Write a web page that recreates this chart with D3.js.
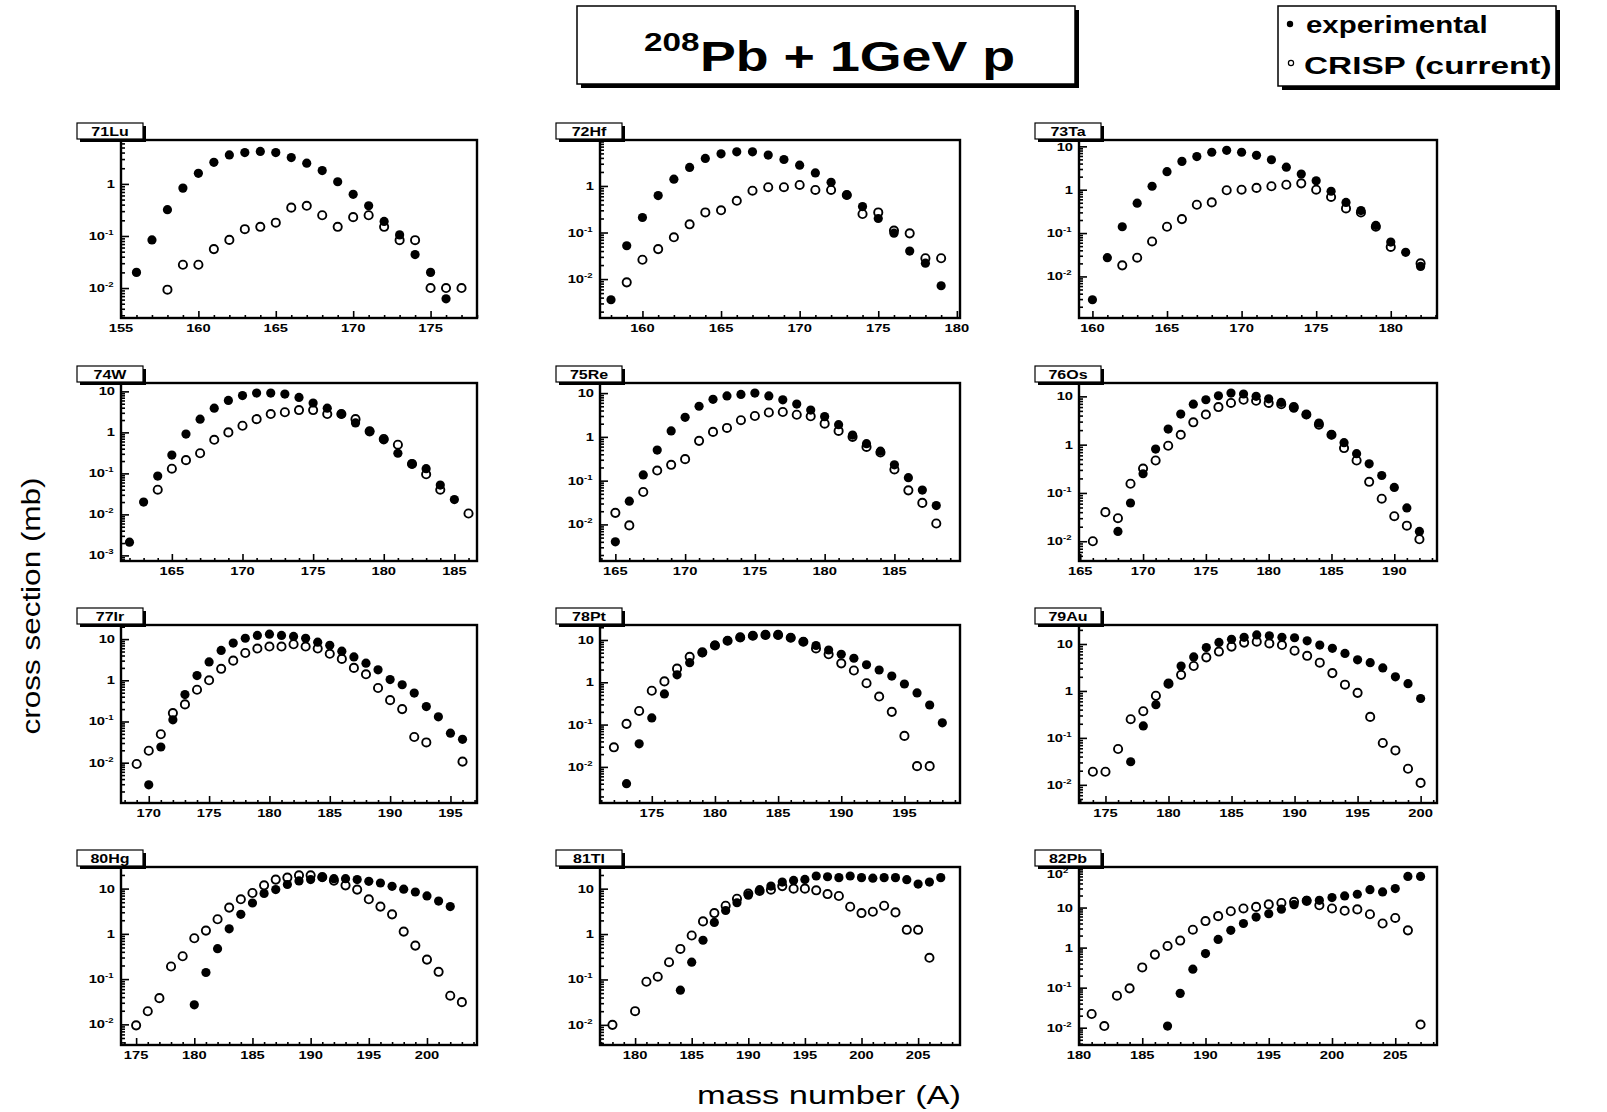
<!DOCTYPE html>
<html><head><meta charset="utf-8">
<script src="https://cdnjs.cloudflare.com/ajax/libs/d3/7.8.5/d3.min.js"></script>
<style>body{margin:0;background:#fff}svg{display:block}text{font-family:"Liberation Sans",Arial,sans-serif;fill:#000}</style>
</head><body><svg id="c" width="1607" height="1112"></svg>
<script>
// ---------------- data ----------------
const nuclei = ["71Lu","72Hf","73Ta","74W","75Re","76Os","77Ir","78Pt","79Au","80Hg","81Tl","82Pb"];
const titleSup = "208";
const titleMain = "Pb + 1GeV p";
const legendLabels = ["experimental", "CRISP (current)"];
const xAxisTitle = "mass number (A)";
const yAxisTitle = "cross section (mb)";

const massLu  = [156,157,158,159,160,161,162,163,164,165,166,167,168,169,170,171,172,173,174,175,176,177];
const expLu   = [0.02,0.084,0.32,0.83,1.6,2.6,3.6,4.0,4.2,4.0,3.2,2.5,1.8,1.1,0.63,0.38,0.19,0.105,0.044,0.02,0.0062,null];
const crispLu = [null,null,0.0093,0.028,0.028,0.056,0.084,0.135,0.15,0.18,0.35,0.38,0.25,0.15,0.23,0.25,0.15,0.083,0.083,0.01,0.01,0.01];

const massHf  = [158,159,160,161,162,163,164,165,166,167,168,169,170,171,172,173,174,175,176,177,178,179];
const expHf   = [0.0036,0.052,0.21,0.62,1.4,2.5,3.9,4.9,5.4,5.4,4.6,3.7,2.8,1.9,1.2,0.64,0.36,0.2,0.097,0.04,0.022,0.0072];
const crispHf = [null,0.0085,0.026,0.044,0.079,0.15,0.27,0.3,0.48,0.79,0.94,0.94,1.05,0.82,0.82,0.64,0.25,0.27,0.11,0.096,0.028,0.028];

const massTa  = [160,161,162,163,164,165,166,167,168,169,170,171,172,173,174,175,176,177,178,179,180,181,182];
const expTa   = [0.0029,0.027,0.14,0.49,1.2,2.6,4.5,5.8,7.3,8.1,7.3,6.2,4.9,3.3,2.3,1.6,0.92,0.51,0.33,0.15,0.062,0.036,0.017];
const crispTa = [null,null,0.018,0.027,0.064,0.14,0.21,0.45,0.51,0.97,1.0,1.1,1.2,1.3,1.4,1.0,0.68,0.37,0.3,0.14,0.048,null,0.02];

const massW   = [162,163,164,165,166,167,168,169,170,171,172,173,174,175,176,177,178,179,180,181,182,183,184,185,186];
const expW    = [0.0021,0.02,0.086,0.28,0.91,2.1,3.9,6.0,7.9,9.1,9.1,8.6,7.1,5.2,3.9,2.8,1.7,1.06,0.66,0.31,0.17,0.13,0.052,0.023,null];
const crispW  = [null,null,0.04,0.13,0.21,0.31,0.66,1.0,1.45,2.1,2.8,3.1,3.5,3.5,2.8,2.8,2.1,1.06,0.69,0.5,0.17,0.095,0.04,null,0.0105];

const massRe  = [165,166,167,168,169,170,171,172,173,174,175,176,177,178,179,180,181,182,183,184,185,186,187,188];
const expRe   = [0.004,0.034,0.135,0.5,1.37,2.8,5.0,7.2,8.6,9.3,10,8.6,7.0,5.6,4.1,2.9,1.9,1.1,0.7,0.47,0.23,0.117,0.061,0.027];
const crispRe = [0.0184,0.0095,0.055,0.17,0.23,0.31,0.81,1.3,1.6,2.4,3.0,3.6,3.7,3.2,2.95,2.0,1.37,1.0,0.59,0.44,0.18,0.06,0.031,0.0105];

const massOs  = [166,167,168,169,170,171,172,173,174,175,176,177,178,179,180,181,182,183,184,185,186,187,188,189,190,191,192];
const expOs   = [null,null,0.016,0.062,0.25,0.81,2.1,4.3,6.9,8.5,10.3,11.7,11.2,10,8.9,7.5,5.7,4.2,2.8,1.6,1.1,0.65,0.4,0.23,0.13,0.049,0.016];
const crispOs = [0.01,0.04,0.03,0.155,0.32,0.47,0.95,1.6,2.9,4.2,6.0,7.3,8.5,8.1,7.3,6.9,6.0,4.2,2.6,1.6,0.85,0.47,0.17,0.076,0.033,0.021,0.011];

const massIr  = [169,170,171,172,173,174,175,176,177,178,179,180,181,182,183,184,185,186,187,188,189,190,191,192,193,194,195,196];
const expIr   = [null,0.0029,0.024,0.11,0.45,1.3,2.8,5.3,8.0,10.5,12.3,13.2,12.3,11.6,10.5,8.4,7.1,5.1,3.7,2.6,1.8,1.04,0.78,0.49,0.23,0.13,0.052,0.037];
const crispIr = [0.0093,0.0195,0.049,0.16,0.26,0.59,1.0,1.9,3.0,4.6,5.9,6.6,6.6,7.5,6.6,5.9,4.4,3.3,2.0,1.4,0.65,0.33,0.2,0.042,0.031,null,null,0.0106];

const massPt  = [172,173,174,175,176,177,178,179,180,181,182,183,184,185,186,187,188,189,190,191,192,193,194,195,196,197,198];
const expPt   = [null,0.004,0.035,0.144,0.53,1.5,2.9,5.0,7.6,9.6,11.5,12.6,13.2,13.2,11.3,9.1,7.4,5.8,4.6,3.7,2.6,1.95,1.4,0.91,0.56,0.29,0.11];
const crispPt = [0.029,0.104,0.21,0.63,1.05,2.1,4.0,5.1,7.4,9.6,11.5,12.6,13.2,13.2,11.3,9.1,6.3,4.6,2.8,1.9,0.95,0.46,0.2,0.054,0.0104,0.0104,null];

const massAu  = [174,175,176,177,178,179,180,181,182,183,184,185,186,187,188,189,190,191,192,193,194,195,196,197,198,199,200];
const expAu   = [null,null,null,0.031,0.18,0.51,1.43,3.4,5.3,8.4,10.8,12.6,13.9,15.6,15,13.9,13.6,11.7,9.5,8.1,6.3,4.6,4.0,3.1,2.0,1.43,0.69];
const crispAu = [0.019,0.019,0.058,0.25,0.37,0.79,1.43,2.2,3.4,5.2,6.9,8.8,10.7,11.2,10.3,9.5,7.2,5.6,4.0,2.4,1.36,0.91,0.28,0.078,0.054,0.022,0.011];

const massHg  = [175,176,177,178,179,180,181,182,183,184,185,186,187,188,189,190,191,192,193,194,195,196,197,198,199,200,201,202,203];
const expHg   = [null,null,null,null,null,0.027,0.14,0.47,1.29,2.7,4.8,7.8,9.5,12.3,14.8,15.8,17.5,16.6,16.6,15.8,14.5,13.3,11.2,9.7,8.4,6.9,5.3,4.0,null];
const crispHg = [0.0095,0.0195,0.038,0.19,0.32,0.8,1.18,2.1,3.8,5.8,8.0,11.8,15.8,17.5,19.6,19.6,18,15,11.8,9.5,5.8,4.0,2.7,1.12,0.55,0.27,0.145,0.043,0.031];

const massTl  = [178,179,180,181,182,183,184,185,186,187,188,189,190,191,192,193,194,195,196,197,198,199,200,201,202,203,204,205,206,207];
const expTl   = [null,null,null,null,null,null,0.058,0.24,0.73,1.8,3.3,4.9,7.2,9.5,11.4,14,15.2,16,19,18.3,17.5,19,17.5,17,17.5,17.5,15.8,12.6,14,17.5];
const crispTl = [0.01,null,0.02,0.089,0.115,0.24,0.47,0.93,1.9,2.9,4.2,6.0,7.8,8.9,9.5,11.4,10,10,9.2,7.6,6.9,4.0,2.9,3.1,4.2,3.0,1.24,1.24,0.3,null];

const massPb  = [181,182,183,184,185,186,187,188,189,190,191,192,193,194,195,196,197,198,199,200,201,202,203,204,205,206,207];
const expPb   = [null,null,null,null,null,null,0.011,0.072,0.29,0.71,1.6,2.7,4.0,5.8,7.0,9.1,11.8,15.2,15.2,17.8,19.5,21.5,28,24.6,29.8,60,60];
const crispPb = [0.022,0.011,0.063,0.096,0.32,0.67,1.1,1.5,2.8,4.6,6.1,8.1,9.5,10.4,12,13,13.9,14.7,11.4,9.5,8.3,9.0,6.8,4.0,5.5,2.7,0.012];

// axis ranges of each pad
const xDomains = [[155,178],[157.3,180.2],[159.1,183.1],[161.4,186.6],[163.9,189.7],[164.9,193.4],
                  [167.7,197.2],[170.9,199.4],[172.9,201.3],[173.7,204.3],[176.9,208.7],[180,208.3]];
const yDomains = [[0.00266,6.97],[0.00146,9.7],[0.0011,14],[0.00073,16],[0.00146,17],[0.0039,18.9],
                  [0.00105,22],[0.0014,22.6],[0.0041,25.4],[0.0035,30],[0.0036,30],[0.0037,103]];

const masses = [massLu,massHf,massTa,massW,massRe,massOs,massIr,massPt,massAu,massHg,massTl,massPb];
const exps   = [expLu,expHf,expTa,expW,expRe,expOs,expIr,expPt,expAu,expHg,expTl,expPb];
const crisps = [crispLu,crispHf,crispTa,crispW,crispRe,crispOs,crispIr,crispPt,crispAu,crispHg,crispTl,crispPb];

// ---------------- drawing ----------------
const SX = 1.28; // horizontal stretch of the original canvas text
const svg = d3.select("#c");
svg.append("rect").attr("width",1607).attr("height",1112).attr("fill","#fff");

function sText(parent, x, y, str, size, anchor, weight, sx, rot) {
  const g = parent.append("g").attr("transform", `translate(${x},${y})` + (rot?` rotate(${rot})`:"") + ` scale(${sx||SX},1)`);
  return g.append("text").attr("text-anchor", anchor||"start").attr("font-size", size)
    .attr("font-weight", weight||"normal").text(str);
}
function shadowBox(parent, x, y, w, h, sh, lw) {
  parent.append("rect").attr("x", x+sh).attr("y", y+sh).attr("width", w).attr("height", h).attr("fill","#000");
  parent.append("rect").attr("x", x).attr("y", y).attr("width", w).attr("height", h)
    .attr("fill","#fff").attr("stroke","#000").attr("stroke-width", lw||1);
}

const colL = [121,600,1079], colR = [477,960,1437];
const rowT = [140,383,625,867], rowB = [318,561,803,1045];

nuclei.forEach((name, i) => {
  const c = i % 3, r = Math.floor(i / 3);
  const x = d3.scaleLinear().domain(xDomains[i]).range([colL[c], colR[c]]);
  const y = d3.scaleLog().domain(yDomains[i]).range([rowB[r], rowT[r]]);
  const g = svg.append("g");
  const [x0, x1] = xDomains[i];
  const [y0, y1] = yDomains[i];

  // x axis ticks (inward)
  const all = d3.range(Math.ceil(x0), Math.floor(x1) + 1);
  const majors = all.filter(v => v % 5 === 0);
  const minors = all.filter(v => v % 5 !== 0);
  const axB = g.append("g").attr("transform", `translate(0,${rowB[r]})`);
  axB.call(d3.axisBottom(x).tickValues(minors).tickSize(-3).tickFormat("").tickSizeOuter(0));
  const axB2 = g.append("g").attr("transform", `translate(0,${rowB[r]})`);
  axB2.call(d3.axisBottom(x).tickValues(majors).tickSize(-7).tickFormat("").tickSizeOuter(0));
  g.selectAll(".domain").remove();
  g.selectAll(".tick line").attr("stroke","#000").attr("stroke-width",1.4);
  majors.forEach(v => sText(g, x(v), rowB[r] + 14, String(v), 11.5, "middle", "bold"));

  // y axis ticks (inward)
  const lo = Math.floor(Math.log10(y0)), hi = Math.ceil(Math.log10(y1));
  const decades = [], minorY = [];
  for (let e = lo; e <= hi; e++) {
    const d = Math.pow(10, e);
    if (d >= y0 && d <= y1) decades.push(d);
    for (let k = 2; k <= 9; k++) { const v = k * d; if (v >= y0 && v <= y1) minorY.push(v); }
  }
  const axL = g.append("g").attr("transform", `translate(${colL[c]},0)`);
  axL.call(d3.axisLeft(y).tickValues(minorY).tickSize(-4).tickFormat("").tickSizeOuter(0));
  const axL2 = g.append("g").attr("transform", `translate(${colL[c]},0)`);
  axL2.call(d3.axisLeft(y).tickValues(decades).tickSize(-8).tickFormat("").tickSizeOuter(0));
  g.selectAll(".domain").remove();
  g.selectAll(".tick line").attr("stroke","#000").attr("stroke-width",1.6);
  decades.forEach(d => {
    const e = Math.round(Math.log10(d));
    const yy = Math.max(y(d) + 4, rowT[r] + 11);
    if (e === 0 || e === 1) {
      sText(g, colL[c] - 6, yy, e === 0 ? "1" : "10", 11.5, "end", "bold");
    } else {
      sText(g, colL[c] - 16, yy, "10", 11.5, "end", "bold");
      sText(g, colL[c] - 16, yy - 5, String(e), 7.5, "start", "bold");
    }
  });

  // frame
  g.append("rect").attr("x", colL[c]).attr("y", rowT[r]).attr("width", colR[c] - colL[c])
    .attr("height", rowB[r] - rowT[r]).attr("fill","none").attr("stroke","#000").attr("stroke-width",2.4);

  // experimental (filled)
  const ptsE = masses[i].map((m, k) => [m, exps[i][k]]).filter(p => p[1] != null);
  g.selectAll(null).data(ptsE).join("circle")
    .attr("cx", d => x(d[0])).attr("cy", d => y(d[1])).attr("r", 4.6).attr("fill","#000");
  // CRISP (open)
  const ptsC = masses[i].map((m, k) => [m, crisps[i][k]]).filter(p => p[1] != null);
  g.selectAll(null).data(ptsC).join("circle")
    .attr("cx", d => x(d[0])).attr("cy", d => y(d[1])).attr("r", 4.1)
    .attr("fill","none").attr("stroke","#000").attr("stroke-width",1.9);

  // pad label
  const bx = colL[c] - 44, by = rowT[r] - 17;
  shadowBox(g, bx, by, 66, 16, 3, 1.2);
  sText(g, bx + 33, by + 13, name, 12.5, "middle", "bold");
});

// title
shadowBox(svg, 577, 6, 498, 78, 4, 1.5);
sText(svg, 644, 51, titleSup, 26, "start", "bold");
sText(svg, 700, 71, titleMain, 42, "start", "bold");

// legend
shadowBox(svg, 1278, 6, 278, 80, 4, 1.5);
svg.append("circle").attr("cx", 1290).attr("cy", 24).attr("r", 3.2).attr("fill","#000");
svg.append("circle").attr("cx", 1291).attr("cy", 63).attr("r", 2.6).attr("fill","none").attr("stroke","#000").attr("stroke-width",1.2);
sText(svg, 1306, 33, legendLabels[0], 23, "start", "bold");
sText(svg, 1304, 74, legendLabels[1], 23, "start", "bold", 1.45);

// axis titles
sText(svg, 829, 1104, xAxisTitle, 26.5, "middle", "normal", 1.3);
sText(svg, 40, 606, yAxisTitle, 25, "middle", "normal", 1.26, -90);
</script></body></html>
